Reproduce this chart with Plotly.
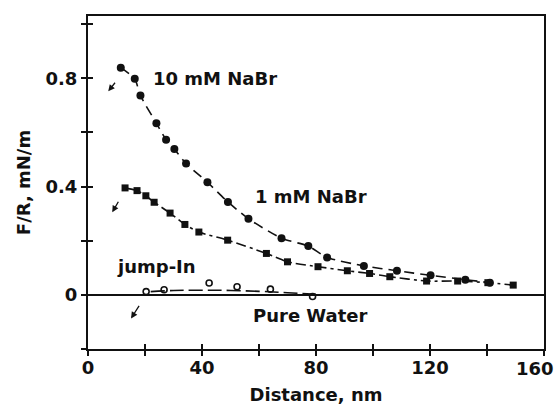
import plotly.graph_objects as go

# 10 mM NaBr (filled circles)
x10 = [11.5, 16.4, 18.4, 24.0, 27.4, 30.3, 34.4, 41.9, 49.1, 56.3, 67.9, 77.3, 83.9, 96.8, 108.4, 120.2, 132.4, 141.0]
y10 = [0.839, 0.798, 0.736, 0.634, 0.573, 0.539, 0.485, 0.416, 0.343, 0.281, 0.209, 0.180, 0.138, 0.107, 0.089, 0.072, 0.056, 0.045]

# 1 mM NaBr (filled squares)
x1 = [13.0, 17.2, 20.3, 23.2, 28.8, 34.0, 38.9, 49.0, 62.6, 70.0, 80.7, 91.0, 98.8, 105.9, 118.8, 129.7, 140.3, 149.2]
y1 = [0.395, 0.385, 0.366, 0.342, 0.302, 0.260, 0.232, 0.202, 0.153, 0.122, 0.104, 0.089, 0.079, 0.067, 0.051, 0.051, 0.045, 0.036]

# Pure water (open circles)
xw = [20.4, 26.7, 42.5, 52.3, 64.0, 78.8]
yw = [0.012, 0.019, 0.044, 0.030, 0.021, -0.006]
# Pure water fit line
xwf = [22.0, 30.0, 45.0, 60.0, 70.0, 80.0]
ywf = [0.012, 0.016, 0.017, 0.013, 0.008, 0.002]

xticks = [0, 20, 40, 60, 80, 100, 120, 140, 160]
xticktext = ["0", "", "40", "", "80", "", "120", "", ""]
last_xlabel = "160"   # drawn right-aligned at the axis end, as in the original
yticks = [-0.2, 0, 0.2, 0.4, 0.6, 0.8, 1.0]
yticktext = ["", "0", "", "0.4", "", "0.8", ""]

FONT = "DejaVu Sans"
INK = "#111111"

fig = go.Figure()
fig.add_trace(go.Scatter(x=x10, y=y10, mode="lines+markers",
                         line=dict(color=INK, width=1.6, dash="10px,6px", shape="spline", smoothing=0.6),
                         marker=dict(symbol="circle", size=8, color=INK), showlegend=False))
fig.add_trace(go.Scatter(x=x1, y=y1, mode="lines+markers",
                         line=dict(color=INK, width=1.6, dash="10px,4px,3px,4px", shape="spline", smoothing=0.6),
                         marker=dict(symbol="square", size=7, color=INK), showlegend=False))
# water fit line drawn on the overlay axes (which carry the inner tick halves)
fig.add_trace(go.Scatter(x=xwf, y=ywf, mode="lines", xaxis="x2", yaxis="y2",
                         line=dict(color=INK, width=1.6, dash="14px,5px", shape="spline"),
                         showlegend=False))
fig.add_trace(go.Scatter(x=xw, y=yw, mode="markers",
                         marker=dict(symbol="circle-open", size=6, color=INK, line=dict(width=1.6)),
                         showlegend=False))

tickfont = dict(family=FONT, size=18, color=INK, weight="bold")

fig.update_layout(
    width=557, height=405,
    margin=dict(l=88, r=13, t=16, b=56, autoexpand=False),
    plot_bgcolor="white", paper_bgcolor="white",
    xaxis=dict(range=[0, 160], tickvals=xticks, ticktext=xticktext, ticks="outside",
               ticklen=5, tickwidth=1.5, tickcolor=INK, showline=True, linecolor=INK,
               linewidth=2, mirror=True, showgrid=False, zeroline=False, tickfont=tickfont,
               automargin=False, ticklabelstandoff=-4,
               title=dict(text="Distance, nm", font=dict(family=FONT, size=18, color=INK, weight="bold"),
                          standoff=15)),
    yaxis=dict(range=[-0.2, 1.03], tickvals=yticks, ticktext=yticktext, ticks="outside",
               ticklen=5, tickwidth=1.5, tickcolor=INK, showline=True, linecolor=INK,
               linewidth=2, mirror=True, showgrid=False, zeroline=True, zerolinecolor=INK,
               zerolinewidth=1.6, tickfont=tickfont, automargin=False,
               title=dict(text="F/R, mN/m", font=dict(family=FONT, size=18, color=INK, weight="bold"),
                          standoff=10)),
    xaxis2=dict(range=[0, 160], overlaying="x", anchor="y2", side="bottom", tickvals=xticks,
                ticks="inside", ticklen=5, tickwidth=1.5, tickcolor=INK, showticklabels=False,
                showline=False, showgrid=False, zeroline=False, automargin=False),
    yaxis2=dict(range=[-0.2, 1.03], overlaying="y", anchor="x2", side="left", tickvals=yticks,
                ticks="inside", ticklen=5, tickwidth=1.5, tickcolor=INK, showticklabels=False,
                showline=False, showgrid=False, zeroline=False, automargin=False),
)

fig.add_annotation(x=xticks[-1], xref="x", y=0, yref="paper", text=last_xlabel, showarrow=False,
                   xanchor="right", yanchor="top", xshift=12, yshift=-7,
                   font=tickfont)

labels = [
    ("10 mM NaBr", 44.5, 0.80),
    ("1 mM NaBr", 78.4, 0.363),
    ("jump-In", 24.2, 0.104),
    ("Pure Water", 78.0, -0.077),
]
for t, lx, ly in labels:
    fig.add_annotation(x=lx, y=ly, text=t, showarrow=False, xanchor="center", yanchor="middle",
                       font=dict(family=FONT, size=18, color=INK, weight="bold"))

arrows = [(7.1, 0.752, 8, -10), (8.5, 0.305, 7, -12), (15.1, -0.087, 9, -14)]
for hx, hy, axo, ayo in arrows:
    fig.add_annotation(x=hx, y=hy, ax=axo, ay=ayo, text="", showarrow=True,
                       arrowhead=2, arrowsize=1, arrowwidth=1.3, arrowcolor=INK)

fig.write_html("out.html")
